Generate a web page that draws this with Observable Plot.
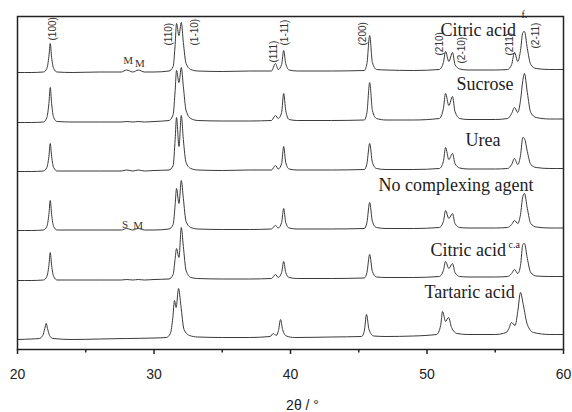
<!DOCTYPE html>
<html>
<head>
<meta charset="utf-8">
<script src="https://cdn.jsdelivr.net/npm/d3@7"></script>
<script src="https://cdn.jsdelivr.net/npm/@observablehq/plot@0.6"></script>
<style>
  html, body { margin: 0; padding: 0; background: #fff; }
</style>
</head>
<body>
<div id="chart"></div>
<script>
// ---- Data (2θ in degrees, intensity in arbitrary units above each trace's baseline) ----
const samples = ["Citric acid f", "Sucrose", "Urea", "No complexing agent", "Citric acid c.a", "Tartaric acid"];
const offsets = [277, 227, 178, 119, 69, 10];

const citricF = [[20,0],[21,0],[21.9,0.5],[22.15,4],[22.3,16],[22.4,29],[22.5,15],[22.65,4],[22.9,0.5],[24,0],[26,0.5],
  [27.6,0.5],[28.0,2.5],[28.45,0.5],[28.85,2.5],[29.3,0.5],[30,0.5],
  [31.1,1.5],[31.4,6],[31.55,28],[31.65,49],[31.83,37],[32.0,50],[32.15,30],[32.35,9],[32.7,3],[33.2,1.5],
  [35,1],[37,1.5],[38.6,1.5],[38.9,9],[39.1,3],[39.35,8],[39.5,22],[39.65,9],[39.9,2.5],[40.5,1.5],
  [43,1.5],[45.4,2],[45.6,9],[45.8,37],[46.0,10],[46.3,3],[47,2.5],
  [49,2],[50.9,3],[51.2,10],[51.36,21],[51.6,11],[51.87,20],[52.05,8],[52.4,3.5],[53,2.5],
  [55,2.5],[55.9,3],[56.2,8],[56.41,20],[56.65,11],[56.85,22],[57.02,40],[57.14,41],[57.35,24],[57.6,8],[58,4],[59,3],[60,3]];

const sucrose = [[20,0],[21,0],[21.9,0.5],[22.15,5],[22.3,19],[22.4,35],[22.5,19],[22.65,5],[22.9,1],[24,0.5],[26,0.5],
  [27.6,0.5],[28.0,1],[28.45,0.5],[28.85,1],[29.3,0.5],[30,1],
  [31.1,2],[31.4,8],[31.55,32],[31.65,52],[31.83,40],[32.0,55],[32.15,36],[32.35,12],[32.7,4],[33.2,2],
  [35,1.5],[37,1.5],[38.6,2],[38.9,7],[39.1,4],[39.35,10],[39.5,29],[39.65,12],[39.9,3],[40.5,2],
  [43,2],[45.4,2.5],[45.6,10],[45.8,40],[46.0,12],[46.3,4],[47,2.5],
  [49,2.5],[50.9,4],[51.2,14],[51.36,29],[51.6,17],[51.87,26],[52.05,11],[52.4,4],[53,3],
  [55,3],[55.9,4],[56.2,9],[56.41,15],[56.65,10],[56.85,22],[57.02,42],[57.14,49],[57.35,30],[57.6,10],[58,5],[59,3.5],[60,3.5]];

const urea = [[20,0],[21,0],[21.9,0.5],[22.15,4],[22.3,15],[22.4,28],[22.5,15],[22.65,4],[22.9,0.5],[24,0.5],[26,0.5],
  [27.6,0.5],[28.0,1.5],[28.45,0.5],[28.85,1.5],[29.3,0.5],[30,1],
  [31.1,1.5],[31.4,6],[31.55,32],[31.65,54],[31.83,25],[32.0,56],[32.15,32],[32.35,9],[32.7,3],[33.2,1.5],
  [35,1],[37,1.5],[38.6,1.5],[38.9,6],[39.1,2.5],[39.35,8],[39.5,25],[39.65,9],[39.9,2.5],[40.5,1.5],
  [43,1.5],[45.4,2],[45.6,8],[45.8,28],[46.0,9],[46.3,3],[47,2],
  [49,2],[50.9,3],[51.2,10],[51.36,24],[51.6,12],[51.87,18],[52.05,8],[52.4,3.5],[53,2.5],
  [55,2.5],[55.9,3],[56.2,7],[56.41,13],[56.65,7],[56.85,16],[57.02,34],[57.14,33],[57.35,20],[57.6,7],[58,4],[59,3],[60,3]];

const noAgent = [[20,0],[21,0],[21.9,0.5],[22.15,4],[22.3,16],[22.4,30],[22.5,16],[22.65,4],[22.9,0.5],[24,0.5],[26,0.5],
  [27.6,0.5],[28.0,2],[28.45,0.5],[28.85,2],[29.3,0.5],[30,0.5],
  [31.1,1.5],[31.4,6],[31.55,26],[31.65,42],[31.83,27],[32.0,50],[32.15,32],[32.35,9],[32.7,3],[33.2,1.5],
  [35,1],[37,1],[38.6,1.5],[38.9,5],[39.1,2.5],[39.35,8],[39.5,22],[39.65,8],[39.9,2.5],[40.5,1.5],
  [43,1.5],[45.4,2],[45.6,8],[45.8,28],[46.0,9],[46.3,3],[47,2],
  [49,2],[50.9,3],[51.2,9],[51.36,20],[51.6,12],[51.87,17],[52.05,7],[52.4,3],[53,2.5],
  [55,2.5],[55.9,3],[56.2,6],[56.41,10],[56.65,7],[56.85,16],[57.02,34],[57.14,37],[57.35,22],[57.6,7],[58,3.5],[59,2.5],[60,2.5]];

const citricCA = [[20,0],[21,0],[21.9,0.5],[22.15,4],[22.3,15],[22.4,28],[22.5,15],[22.65,4],[22.9,0.5],[24,0.5],[26,0.5],
  [27.6,0.5],[28.0,1],[28.45,0.5],[28.85,1],[29.3,0.5],[30,1],
  [31.1,1.5],[31.4,6],[31.55,22],[31.65,32],[31.83,23],[32.0,53],[32.15,34],[32.35,10],[32.7,3],[33.2,2],
  [35,1.5],[37,1.5],[38.6,2],[38.9,6],[39.1,3],[39.35,8],[39.5,19],[39.65,8],[39.9,3],[40.5,2],
  [43,2],[45.4,2.5],[45.6,8],[45.8,26],[46.0,9],[46.3,3.5],[47,3],
  [49,3],[50.9,4],[51.2,10],[51.36,19],[51.6,12],[51.87,17],[52.05,8],[52.4,4],[53,3.5],
  [55,3.5],[55.9,4],[56.2,7],[56.41,11],[56.65,7],[56.85,15],[57.02,36],[57.14,37],[57.35,22],[57.6,8],[58,4.5],[59,4],[60,4]];

const tartaric = [[20,0],[21,0.5],[21.6,1],[21.85,4],[22.0,11],[22.1,16],[22.2,11],[22.35,4],[22.6,1],[24,0],[26,0.5],[28,1],[30,1.5],
  [30.9,2],[31.2,6],[31.38,22],[31.5,39],[31.62,32],[31.8,51],[31.97,34],[32.2,10],[32.6,4],[33.2,2.5],
  [35,2],[37,2],[38.5,3],[38.75,6],[38.95,4],[39.12,9],[39.27,20],[39.42,10],[39.7,3.5],[40.3,2],
  [43,2.5],[45.2,3],[45.4,8],[45.57,25],[45.75,10],[46.1,3.5],[47,3],
  [49,3.5],[50.7,5],[51.0,14],[51.14,28],[51.36,18],[51.58,22],[51.8,12],[52.2,6],[53,5],
  [55,5],[55.8,7],[56.0,11],[56.19,17],[56.45,14],[56.65,28],[56.85,47],[57.05,35],[57.35,15],[57.8,7],[59,5],[60,5]];

const patterns = [citricF, sucrose, urea, noAgent, citricCA, tartaric];

// Sample name labels (2θ, intensity) and superscripts
const nameText = ["Citric acid", "Sucrose", "Urea", "No complexing agent", "Citric acid", "Tartaric acid"];
const nameX = [50.99, 52.16, 52.82, 46.45, 50.26, 49.82];
const nameY = [314, 260, 204, 159, 94, 52];
const supText = ["f.", "c.a"];
const supX = [56.92, 55.97];
const supY = [332, 102];

// Miller index labels
const hklText = ["(100)", "(110)", "(1-10)", "(111)", "(1-11)", "(200)", "(210)", "(2-10)", "(211)", "(2-11)"];
const hklX = [22.56, 31.06, 32.97, 38.75, 39.56, 45.27, 50.92, 52.53, 56.04, 57.95];
const hklY = [309, 304, 304, 287, 304, 304, 294, 286, 294, 301];

// Phase markers (M = monoclinic, S = ...)
const markText = ["M", "M", "S", "M"];
const markX = [28.1, 28.97, 27.88, 28.83];
const markY = [286, 283, 122, 121];

const majorTicks = [20, 30, 40, 50, 60];
const minorTicks = [25, 35, 45, 55];

// ---- Build tables ----
const rows = [];
patterns.forEach((p, i) => p.forEach(([x, v]) => rows.push({sample: samples[i], x, y: v + offsets[i]})));
const names = nameText.map((t, i) => ({t, x: nameX[i], y: nameY[i]}));
const sups = supText.map((t, i) => ({t, x: supX[i], y: supY[i]}));
const hkls = hklText.map((t, i) => ({t, x: hklX[i], y: hklY[i]}));
const marks = markText.map((t, i) => ({t, x: markX[i], y: markY[i]}));

const serif = "'Liberation Serif', 'Times New Roman', serif";

const chart = Plot.plot({
  width: 572,
  height: 412,
  marginTop: 16,
  marginBottom: 63,
  marginLeft: 17,
  marginRight: 9,
  style: {fontFamily: "'Liberation Sans', Arial, sans-serif", background: "#fff", color: "#222"},
  x: {domain: [20, 60]},
  y: {domain: [0, 333], axis: null},
  marks: [
    Plot.line(rows, {x: "x", y: "y", z: "sample", stroke: "#3a3a3a", strokeWidth: 1, curve: "monotone-x"}),
    Plot.text(names, {x: "x", y: "y", text: "t", textAnchor: "start", lineAnchor: "bottom", fontFamily: serif, fontSize: 18, fill: "#222"}),
    Plot.text(sups, {x: "x", y: "y", text: "t", textAnchor: "start", lineAnchor: "bottom", fontFamily: serif, fontSize: 10, fill: "#222"}),
    Plot.text(hkls, {x: "x", y: "y", text: "t", rotate: -90, textAnchor: "start", lineAnchor: "middle", fontSize: 10, fill: "#333"}),
    Plot.text(marks, {x: "x", y: "y", text: "t", textAnchor: "middle", lineAnchor: "bottom", fontFamily: serif, fontSize: 11, fill: "#333"}),
    Plot.frame({stroke: "#222", strokeWidth: 1.5}),
    Plot.axisX({ticks: majorTicks, tickSize: 5, tickPadding: 15, fontSize: 14, label: null, strokeWidth: 1.5, stroke: "#222"}),
    Plot.axisX({ticks: minorTicks, tickSize: 3.5, tickFormat: () => "", label: null, strokeWidth: 1.5, stroke: "#222"}),
    Plot.text(["2θ / °"], {x: [40.88], frameAnchor: "bottom", dy: 60, lineAnchor: "bottom", fontSize: 14, fill: "#222"})
  ]
});
document.getElementById("chart").appendChild(chart);
</script>
</body>
</html>
